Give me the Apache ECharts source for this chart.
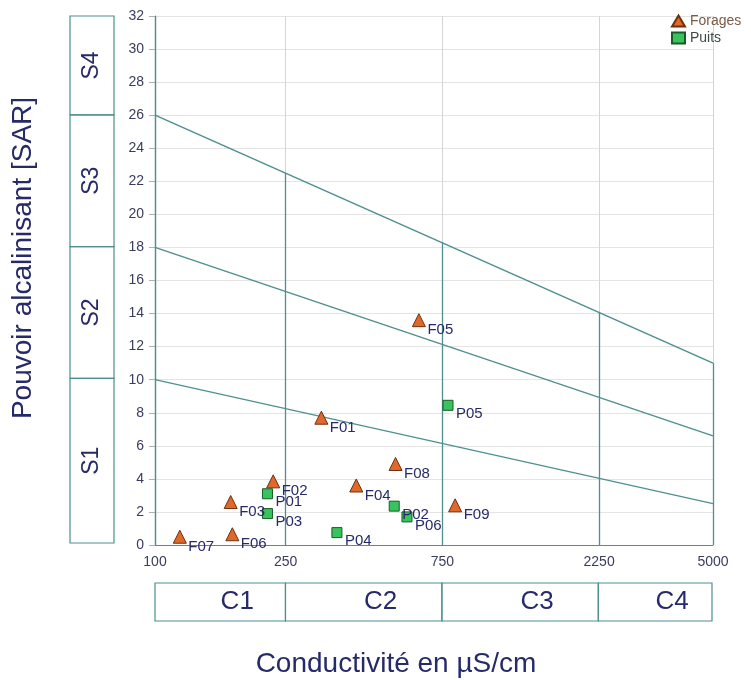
<!DOCTYPE html>
<html>
<head>
<meta charset="utf-8">
<script src="https://cdn.jsdelivr.net/npm/echarts@6/dist/echarts.min.js"></script>
<style>
html,body{margin:0;padding:0;background:#ffffff;}
#chart{width:751px;height:680px;}
</style>
</head>
<body>
<div id="chart"></div>
<script>
// ---------- data ----------
const forageNames = ['F01','F02','F03','F04','F05','F06','F07','F08','F09'];
const forageEC    = [321, 229, 170, 410, 636, 172, 119, 540, 820];
const forageSAR   = [7.7, 3.85, 2.6, 3.6, 13.6, 0.65, 0.5, 4.9, 2.4];

const puitsNames = ['P01','P02','P03','P04','P05','P06'];
const puitsEC    = [220, 535, 220, 358, 780, 585];
const puitsSAR   = [3.1, 2.35, 1.9, 0.75, 8.45, 1.7];

const xTicks = [100, 250, 750, 2250, 5000];
const yMin = 0, yMax = 32, yStep = 2;

const sBreaks = [0, 10, 18, 26, 32];
const sLabels = ['S1', 'S2', 'S3', 'S4'];
const cLabels = ['C1', 'C2', 'C3', 'C4'];

// class boundary lines (EC, SAR)
const limitS1S2 = [[100, 10], [5000, 2.5]];
const limitS2S3 = [[100, 18], [5000, 6.6]];
const limitS3S4 = [[100, 26], [5000, 11]];
// top of the coloured vertical class separators at each x tick
const classTopSAR = [32, 22.5, 18.3, 14.1, 11];

// ---------- styles ----------
const FONT = 'Liberation Sans, Arial, sans-serif';
const TEAL = '#4f8f8f';
const NAVY = '#262a68';
const TICKC = '#3a3c5e';
const GRIDC = '#e4e4e4';

const chart = echarts.init(document.getElementById('chart'), null, {renderer: 'canvas'});

const forageData = forageNames.map((n, i) => ({name: n, value: [forageEC[i], forageSAR[i]]}));
const puitsData = puitsNames.map((n, i) => ({name: n, value: [puitsEC[i], puitsSAR[i]]}));

const gridLinesML = xTicks.map(v => [
  {name: String(v), coord: [v, yMin]},
  {coord: [v, yMax]}
]);
const classLinesML = xTicks.map((v, i) => [
  {coord: [v, yMin]},
  {coord: [v, classTopSAR[i]]}
]);

const sBoxData = sLabels.map((l, i) => [sBreaks[i], sBreaks[i + 1]]);
const cBoxData = cLabels.map((l, i) => [xTicks[i], xTicks[i + 1]]);

const option = {
  backgroundColor: '#ffffff',
  animation: false,
  textStyle: {fontFamily: FONT},
  legend: {
    data: [
      {name: 'Forages', textStyle: {color: '#7b5a46'}},
      {name: 'Puits', textStyle: {color: '#3d4a45'}}
    ],
    orient: 'vertical',
    left: 666,
    top: 9,
    itemWidth: 13,
    itemHeight: 11,
    itemGap: 3,
    selectedMode: false,
    textStyle: {fontSize: 14, fontFamily: FONT}
  },
  grid: [
    {left: 155, top: 16, width: 558, height: 529, containLabel: false},
    {left: 70, top: 16, width: 44, height: 527, containLabel: false},
    {left: 155, top: 583, width: 557, height: 38, containLabel: false}
  ],
  xAxis: [
    {
      gridIndex: 0, type: 'log', logBase: 10, min: 100, max: 5000,
      axisLine: {show: true, lineStyle: {color: TEAL, width: 1.2}},
      axisTick: {show: false},
      axisLabel: {show: false},
      splitLine: {show: false},
      minorTick: {show: false},
      minorSplitLine: {show: false}
    },
    {gridIndex: 1, type: 'value', min: 0, max: 1, show: false},
    {gridIndex: 2, type: 'log', logBase: 10, min: 100, max: 5000, show: false}
  ],
  yAxis: [
    {
      gridIndex: 0, type: 'value', min: yMin, max: yMax, interval: yStep,
      axisLine: {show: true, lineStyle: {color: TEAL, width: 1.2}},
      axisTick: {show: true, length: 6, lineStyle: {color: '#b0b0b0'}},
      axisLabel: {color: TICKC, fontSize: 14, fontFamily: FONT, margin: 11},
      splitLine: {show: true, lineStyle: {color: GRIDC, width: 1}}
    },
    {gridIndex: 1, type: 'value', min: yMin, max: yMax, show: false},
    {gridIndex: 2, type: 'value', min: 0, max: 1, show: false}
  ],
  series: [
    {
      name: 'limS1S2', type: 'line', xAxisIndex: 0, yAxisIndex: 0,
      data: limitS1S2, showSymbol: false, silent: true, z: 3,
      lineStyle: {color: TEAL, width: 1.4},
      markLine: {
        silent: true, symbol: ['none', 'none'], z: 1,
        lineStyle: {color: '#d4d4d4', width: 1, type: 'solid'},
        label: {show: true, position: 'start', formatter: '{b}', color: TICKC, fontSize: 14, fontFamily: FONT, distance: 10},
        emphasis: {disabled: true},
        data: gridLinesML
      }
    },
    {
      name: 'limS2S3', type: 'line', xAxisIndex: 0, yAxisIndex: 0,
      data: limitS2S3, showSymbol: false, silent: true, z: 3,
      lineStyle: {color: TEAL, width: 1.4},
      markLine: {
        silent: true, symbol: ['none', 'none'], z: 3,
        lineStyle: {color: TEAL, width: 1.3, type: 'solid'},
        label: {show: false},
        emphasis: {disabled: true},
        data: classLinesML
      }
    },
    {
      name: 'limS3S4', type: 'line', xAxisIndex: 0, yAxisIndex: 0,
      data: limitS3S4, showSymbol: false, silent: true, z: 3,
      lineStyle: {color: TEAL, width: 1.4}
    },
    {
      name: 'Forages', type: 'scatter', xAxisIndex: 0, yAxisIndex: 0,
      data: forageData, symbol: 'triangle', symbolSize: 13, z: 6,
      itemStyle: {color: '#e0682a', borderColor: '#6e300e', borderWidth: 1, opacity: 1},
      label: {show: true, position: 'right', distance: 1.5, offset: [0, 10], formatter: '{b}', color: NAVY, fontSize: 15, fontFamily: FONT}
    },
    {
      name: 'Puits', type: 'scatter', xAxisIndex: 0, yAxisIndex: 0,
      data: puitsData, symbol: 'rect', symbolSize: 10, z: 6,
      itemStyle: {color: '#37c45c', borderColor: '#1a5a29', borderWidth: 1, opacity: 1},
      label: {show: true, position: 'right', distance: 2.5, offset: [0, 8.5], formatter: '{b}', color: NAVY, fontSize: 15, fontFamily: FONT}
    },
    {
      name: 'sBoxes', type: 'custom', xAxisIndex: 1, yAxisIndex: 1, silent: true,
      data: sBoxData,
      renderItem: function (params, api) {
        const p0 = api.coord([0, api.value(0)]);
        const p1 = api.coord([1, api.value(1)]);
        return {
          type: 'group',
          children: [
            {type: 'rect', shape: {x: p0[0], y: p1[1], width: p1[0] - p0[0], height: p0[1] - p1[1]},
             style: {fill: 'none', stroke: TEAL, lineWidth: 1.2}},
            {type: 'text', x: (p0[0] + p1[0]) / 2, y: (p0[1] + p1[1]) / 2, rotation: Math.PI / 2,
             style: {text: sLabels[params.dataIndex], fill: NAVY, fontSize: 23, fontFamily: FONT, align: 'center', verticalAlign: 'middle'}}
          ]
        };
      }
    },
    {
      name: 'cBoxes', type: 'custom', xAxisIndex: 2, yAxisIndex: 2, silent: true,
      data: cBoxData,
      renderItem: function (params, api) {
        const p0 = api.coord([api.value(0), 0]);
        const p1 = api.coord([api.value(1), 1]);
        return {
          type: 'group',
          children: [
            {type: 'rect', shape: {x: p0[0], y: p1[1], width: p1[0] - p0[0], height: p0[1] - p1[1]},
             style: {fill: 'none', stroke: TEAL, lineWidth: 1.2}},
            {type: 'text', x: (p0[0] + p1[0]) / 2 + 17, y: (p0[1] + p1[1]) / 2,
             style: {text: cLabels[params.dataIndex], fill: NAVY, fontSize: 26, fontFamily: FONT, align: 'center', verticalAlign: 'middle'}}
          ]
        };
      }
    }
  ],
  graphic: [
    {type: 'text', x: 23, y: 258, rotation: Math.PI / 2,
     style: {text: 'Pouvoir alcalinisant [SAR]', fill: NAVY, fontSize: 28, fontFamily: FONT, align: 'center', verticalAlign: 'middle'}},
    {type: 'text', x: 396, y: 664,
     style: {text: 'Conductivité en µS/cm', fill: NAVY, fontSize: 28, fontFamily: FONT, align: 'center', verticalAlign: 'middle'}}
  ]
};

chart.setOption(option);
</script>
</body>
</html>
